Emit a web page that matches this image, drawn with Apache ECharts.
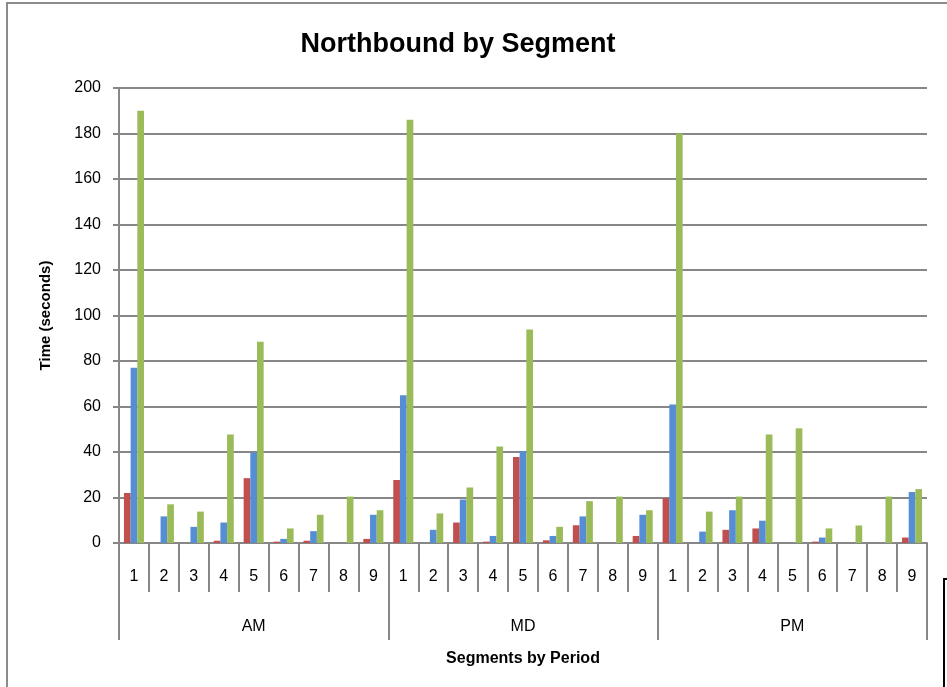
<!DOCTYPE html>
<html>
<head>
<meta charset="utf-8">
<script src="https://cdn.jsdelivr.net/npm/echarts@6/dist/echarts.min.js"></script>
<style>
html,body{margin:0;padding:0;background:#fff;}
#chart{width:947px;height:687px;}
</style>
</head>
<body>
<div id="chart"></div>
<script>
var segments = ['1','2','3','4','5','6','7','8','9','1','2','3','4','5','6','7','8','9','1','2','3','4','5','6','7','8','9'];
var periods = ['AM','MD','PM'];
var yTicks = [0,20,40,60,80,100,120,140,160,180,200];
var redValues = [22,0,0,1,28.5,0.6,1,0,1.8, 27.7,0,9,0.6,37.8,1.2,7.8,0,3.1, 19.7,0,5.8,6.4,0,0.6,0,0,2.4];
var blueValues = [77,11.7,7.1,9,39.8,1.8,5.2,0,12.4, 64.9,5.8,19.1,3.1,40.4,3.1,11.7,0,12.4, 60.9,5,14.4,9.8,0,2.4,0,0,22.4];
var greenValues = [190,17,13.8,47.7,88.5,6.4,12.4,20.4,14.4, 186,13,24.4,42.4,93.8,7.1,18.4,20.4,14.4, 180,13.8,20.4,47.7,50.4,6.4,7.7,20.4,23.7];

var FONT = "'Liberation Sans', 'Open Sans', sans-serif";
var GRAY = '#878787';
var chart = echarts.init(document.getElementById('chart'), null, {renderer:'canvas'});
chart.setOption({
  animation: false,
  backgroundColor: '#ffffff',
  grid: {left: 119, right: 20, top: 88, bottom: 144, containLabel: false},
  graphic: [
    {type:'rect', shape:{x:7, y:3, width:1000, height:1000}, style:{fill:null, stroke:'#8c8c8c', lineWidth:2}, silent:true},
    {type:'rect', shape:{x:944, y:579, width:200, height:300}, style:{fill:null, stroke:'#000', lineWidth:2}, silent:true},
    {type:'text', x:458, y:45, style:{text:'Northbound by Segment', font:"bold 27px " + FONT, fill:'#000', textAlign:'center', textVerticalAlign:'middle'}}
  ],
  yAxis: {
    type: 'value', min: yTicks[0], max: yTicks[yTicks.length-1], interval: 20,
    name: 'Time (seconds)', nameLocation: 'middle', nameGap: 66, nameRotate: 90,
    nameTextStyle: {fontFamily: FONT, fontWeight: 'bold', fontSize: 15, color: '#000'},
    axisLine: {show: true, lineStyle: {color: GRAY, width: 2}},
    axisTick: {show: true, length: 6, lineStyle: {color: GRAY, width: 2}},
    axisLabel: {fontFamily: FONT, fontSize: 16, color: '#000', margin: 18},
    splitLine: {show: true, lineStyle: {color: GRAY, width: 2}}
  },
  xAxis: [
    {
      type: 'category', data: segments, position: 'bottom',
      axisLine: {show: true, lineStyle: {color: GRAY, width: 2}},
      axisTick: {show: true, interval: 0, length: 49, lineStyle: {color: GRAY, width: 2}},
      axisLabel: {interval: 0, fontFamily: FONT, fontSize: 16, color: '#000', margin: 26}
    },
    {
      type: 'category', data: periods, position: 'bottom',
      axisLine: {show: false},
      axisTick: {show: true, interval: 0, length: 97, lineStyle: {color: GRAY, width: 2}},
      axisLabel: {interval: 0, fontFamily: FONT, fontSize: 16, color: '#000', margin: 76},
      name: 'Segments by Period', nameLocation: 'middle', nameGap: 108,
      nameTextStyle: {fontFamily: FONT, fontWeight: 'bold', fontSize: 16, color: '#000'}
    }
  ],
  series: [
    {type:'bar', xAxisIndex:0, data: redValues, barGap:'0%', barCategoryGap:'33%', itemStyle:{color:'#C0504D'}},
    {type:'bar', xAxisIndex:0, data: blueValues, itemStyle:{color:'#558ED5'}},
    {type:'bar', xAxisIndex:0, data: greenValues, itemStyle:{color:'#9BBB59'}}
  ]
});
</script>
</body>
</html>
